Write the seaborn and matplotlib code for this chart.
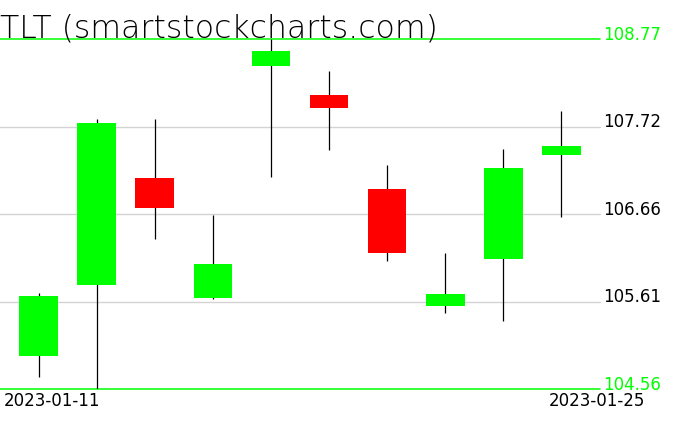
import matplotlib
matplotlib.use("Agg")
import matplotlib.pyplot as plt
import seaborn as sns
import numpy as np
import pandas as pd

# ---- data ----
dates = ["2023-01-11", "2023-01-12", "2023-01-13", "2023-01-17", "2023-01-18",
         "2023-01-19", "2023-01-20", "2023-01-23", "2023-01-24", "2023-01-25"]
opens  = [104.96, 105.81, 107.10, 105.65, 108.45, 108.10, 106.97, 105.56, 106.12, 107.37]
highs  = [105.71, 107.81, 107.81, 106.65, 108.77, 108.38, 107.25, 106.20, 107.45, 107.90]
lows   = [104.70, 104.56, 106.37, 105.64, 107.11, 107.43, 106.10, 105.48, 105.38, 106.63]
closes = [105.68, 107.76, 106.74, 106.06, 108.63, 107.94, 106.19, 105.70, 107.22, 107.48]
title = "TLT (smartstockcharts.com)"
first_label = "2023-01-11"
last_label = "2023-01-25"

df = pd.DataFrame({"date": dates, "open": opens, "high": highs, "low": lows, "close": closes})
df["x"] = np.arange(len(df))

sns.set_theme(style="white")
plt.rcParams['font.family'] = ['DejaVu Sans']
plt.rcParams['text.color'] = 'black'

W, H = 676, 431
fig = plt.figure(figsize=(W / 100, H / 100), dpi=100)
ax = fig.add_axes([0, 41 / H, 600 / W, 350 / H])

ymin, ymax = df["low"].min(), df["high"].max()
ax.set_ylim(ymin, ymax)
ax.set_xlim(-0.67, len(df) - 1 + 0.67)

# grid levels
levels = np.linspace(ymin, ymax, 5)
for i, lv in enumerate(levels):
    edge = i == 0 or i == len(levels) - 1
    ax.axhline(lv, color="#00ff00" if edge else "#d3d3d3", lw=1.1 if edge else 1.0, zorder=0,
               clip_on=False)
    ax.text(603 / 600 * 1.0, lv, f"{lv:.2f}", transform=ax.get_yaxis_transform(),
            ha="left", va="baseline", fontsize=12,
            color="#00ff00" if edge else "black", clip_on=False)

# wicks
ax.vlines(df["x"], df["low"], df["high"], color="black", lw=0.9, zorder=2)
# bodies
up = df["close"] >= df["open"]
colors = np.where(up, "#00ff00", "#ff0000")
bottoms = np.minimum(df["open"], df["close"])
heights = np.abs(df["close"] - df["open"])
ax.bar(df["x"], heights, bottom=bottoms, width=0.67, color=colors, edgecolor="none", zorder=3)

for s in ax.spines.values():
    s.set_visible(False)
ax.set_xticks([])
ax.set_yticks([])

fig.text(0, 1 - 38 / H, title, fontsize=22.7, ha="left", va="baseline", fontweight="light",
         color="black")
fig.text(4 / W, 1 - 406 / H, first_label, fontsize=12, ha="left", va="baseline", color="black")
fig.text(645 / W, 1 - 406 / H, last_label, fontsize=12, ha="right", va="baseline", color="black")

fig.savefig("out.png", dpi=100)
